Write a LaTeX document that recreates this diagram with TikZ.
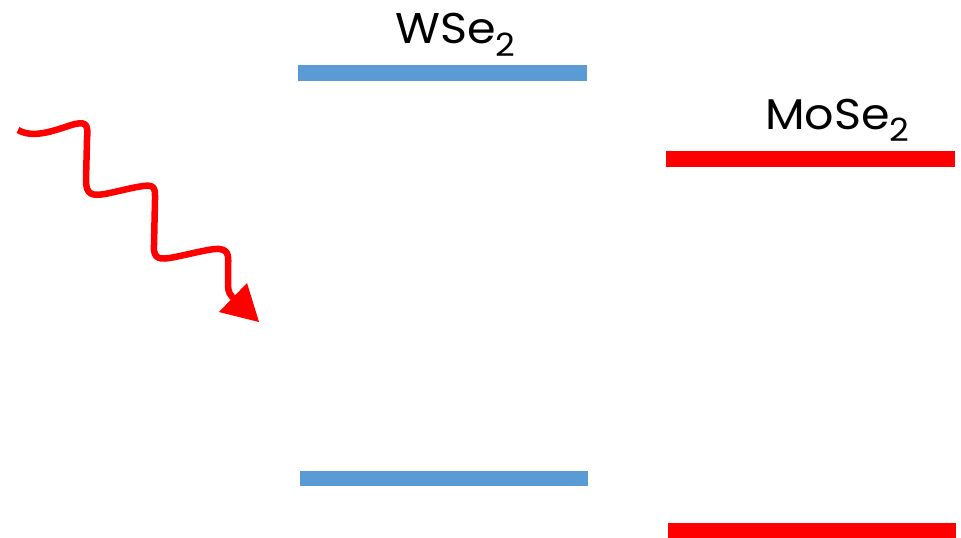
\documentclass[tikz,border=0pt]{standalone}
\usepackage{fontspec}
\setmainfont{Poppins}
\definecolor{bandblue}{HTML}{5B9BD5}
\definecolor{bandred}{HTML}{FF0000}
\begin{document}
\begin{tikzpicture}[x=1pt,y=-1pt,
  wsebar/.style={fill=bandblue,draw=none},
  mosebar/.style={fill=bandred,draw=none},
  lbl/.style={inner sep=0pt,anchor=base west,font=\fontsize{43}{43}\selectfont},
  photon/.style={draw=bandred,line width=6.5pt,line cap=butt,line join=round}]
\useasboundingbox (0,0) rectangle (961,538);
\fill[white] (0,0) rectangle (961,538);
% bands
\path[wsebar] (298,65) rectangle (587,81);
\path[wsebar] (300,471) rectangle (588,486);
\path[mosebar] (666,151) rectangle (955,167);
\path[mosebar] (668,523) rectangle (956,538);
% labels
\node[lbl,xscale=1.07] (wse) at (395,43) {WSe\raisebox{-13pt}{\fontsize{32}{32}\selectfont 2}};
\node[lbl,xscale=1.07] (mose) at (765,129) {MoSe\raisebox{-12pt}{\fontsize{32}{32}\selectfont 2}};
% photon
\path[photon] (18,130) .. controls (35,140) and (60,128) .. (75,124)
  .. controls (88,121) and (88,127) .. (87,140) -- (86,180)
  .. controls (86,195) and (92,196) .. (105,194)
  .. controls (120,191) and (130,188) .. (143,186)
  .. controls (156,184) and (155,190) .. (155,200) -- (154,245)
  .. controls (153,260) and (160,260) .. (175,257)
  .. controls (190,254) and (205,250) .. (215,249)
  .. controls (228,248) and (229,255) .. (228,265) -- (228,285)
  .. controls (228,292) and (230,296) .. (236,300);
\fill[bandred] (259,322) -- (219,312) -- (247,283) -- cycle;
\end{tikzpicture}
\end{document}
